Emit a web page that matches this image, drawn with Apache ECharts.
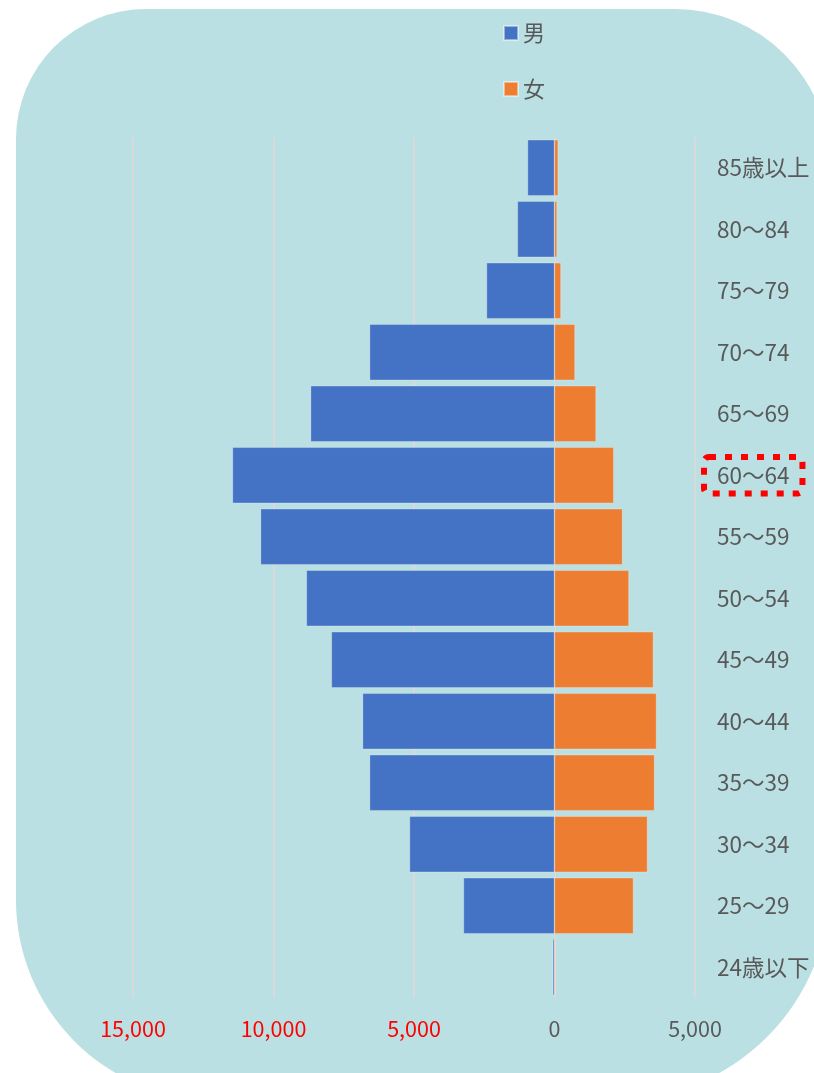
<!DOCTYPE html>
<html>
<head>
<meta charset="utf-8">
<script src="https://cdn.jsdelivr.net/npm/echarts@6/dist/echarts.min.js"></script>
<style>
  html, body { margin: 0; padding: 0; background: #ffffff; }
  #chart { width: 814px; height: 1073px; }
</style>
</head>
<body>
<div id="chart"></div>
<script>
// Age groups, bottom to top
const categories = ['24歳以下', '25～29', '30～34', '35～39', '40～44', '45～49', '50～54',
                    '55～59', '60～64', '65～69', '70～74', '75～79', '80～84', '85歳以上'];
// Male counts (drawn to the left)
const maleValues = [60, 3240, 5160, 6580, 6830, 7940, 8830, 10460, 11460, 8680, 6580, 2420, 1320, 960];
// Female counts (drawn to the right)
const femaleValues = [30, 2810, 3310, 3560, 3630, 3520, 2650, 2420, 2110, 1480, 730, 230, 90, 130];
const seriesNames = ['男', '女'];
const highlightCategory = '60～64';
// X axis ticks
const xTicks = [-15000, -10000, -5000, 0, 5000];

const FONT = "'Noto Sans CJK JP', 'Noto Sans', sans-serif";
const chart = echarts.init(document.getElementById('chart'), null, { renderer: 'canvas' });

const option = {
  animation: false,
  backgroundColor: '#ffffff',
  textStyle: { fontFamily: FONT },
  graphic: [{
    type: 'rect',
    z: -10,
    silent: true,
    shape: { x: 16, y: 9, width: 814, height: 1091, r: [130, 155, 215, 200] },
    style: { fill: '#BBE0E3' }
  }],
  legend: {
    orient: 'vertical',
    left: 498,
    top: 17,
    itemWidth: 14,
    itemHeight: 14,
    itemGap: 34,
    icon: 'rect',
    data: seriesNames,
    textStyle: { fontSize: 22, lineHeight: 22, color: '#595959', fontFamily: FONT }
  },
  grid: { left: 133, right: 119, top: 137, bottom: 75, containLabel: false },
  xAxis: {
    type: 'value',
    min: xTicks[0],
    max: xTicks[xTicks.length - 1],
    interval: 5000,
    axisLine: { show: false },
    axisTick: { show: false },
    splitLine: { show: true, lineStyle: { color: '#D9D9D9', width: 2 } },
    axisLabel: {
      margin: 20,
      fontSize: 21.5,
      fontFamily: FONT,
      color: function (v) { return Number(v) < 0 ? '#FF0000' : '#595959'; },
      formatter: function (v) { return Math.abs(v).toLocaleString('en-US'); }
    }
  },
  yAxis: {
    type: 'category',
    position: 'right',
    data: categories,
    axisLine: { show: false },
    axisTick: { show: false },
    splitLine: { show: false },
    axisLabel: {
      margin: 9,
      formatter: function (v) { return v === highlightCategory ? '{hl|' + v + '}' : '{n|' + v + '}'; },
      rich: {
        n: {
          fontSize: 22.5, color: '#595959', fontFamily: FONT,
          padding: [7, 13], borderWidth: 0
        },
        hl: {
          fontSize: 22.5, color: '#595959', fontFamily: FONT,
          padding: [7, 13],
          borderColor: '#FF0000', borderWidth: 6, borderType: [7, 9], borderRadius: 5
        }
      }
    }
  },
  series: [
    {
      name: seriesNames[0],
      type: 'bar',
      stack: 'pyramid',
      barCategoryGap: '9%',
      itemStyle: { color: '#4472C4', borderColor: 'rgba(255,255,255,0.45)', borderWidth: 0.6 },
      data: maleValues.map(function (v) { return -v; })
    },
    {
      name: seriesNames[1],
      type: 'bar',
      stack: 'pyramid',
      barCategoryGap: '9%',
      itemStyle: { color: '#ED7D31', borderColor: 'rgba(255,255,255,0.45)', borderWidth: 0.6 },
      data: femaleValues
    }
  ]
};
chart.setOption(option);
</script>
</body>
</html>
